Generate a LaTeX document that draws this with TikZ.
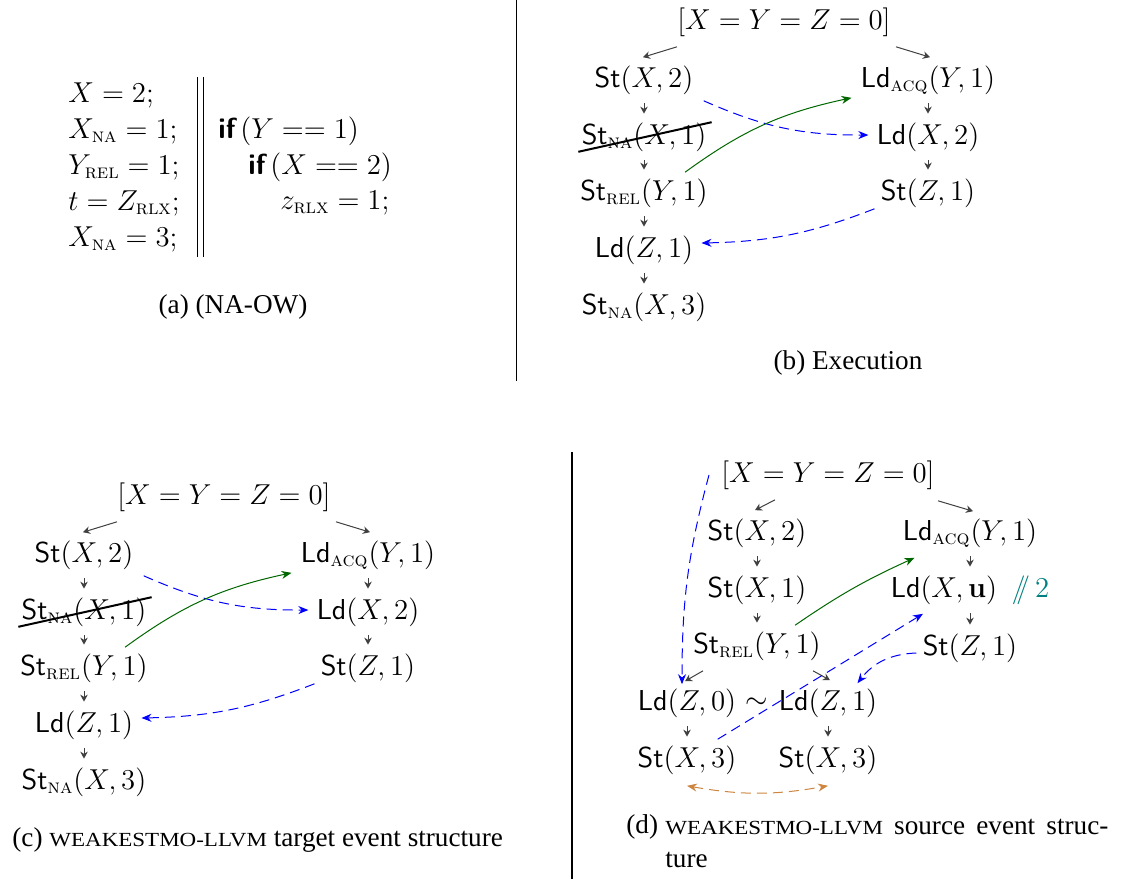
\documentclass[tikz,border=0pt]{standalone}
\usepackage{amsmath}
\usepackage[no-math]{fontspec}
\setmainfont{Liberation Serif}
\newfontfamily\smcfont{Liberation Serif}[FakeStretch=1.15]
\usetikzlibrary{arrows.meta,calc}

\definecolor{ecocol}{RGB}{205,133,63}
\newcommand{\mo}[1]{\text{\fontfamily{lmr}\selectfont\scshape #1}}
\newcommand{\Ste}{\mathsf{St}}
\newcommand{\Lde}{\mathsf{Ld}}
\newcommand{\wmo}{{\smcfont\fontsize{10}{12}\selectfont WEAKESTMO-LLVM}}

\begin{document}
\begin{tikzpicture}[x=0.5pt, y=0.5pt,
  ev/.style={inner sep=0pt, font=\fontsize{14.5}{17}\selectfont},
  code/.style={inner sep=0pt, anchor=west, font=\fontsize{14.5}{17}\selectfont},
  subcap/.style={inner sep=0pt, font=\fontsize{13.6}{16}\selectfont},
  po/.style={draw=black!75, line width=0.5pt, -{Stealth[length=3.5pt,width=3.8pt]}},
  pod/.style={po, shorten <=4.3pt, shorten >=4.3pt},
  rf/.style={blue, line width=0.5pt, dash pattern=on 5pt off 3pt, -{Stealth[length=5pt,width=4pt]}},
  sw/.style={green!40!black, line width=0.5pt, -{Stealth[length=5pt,width=4pt]}},
  eco/.style={draw=ecocol, line width=0.5pt, dash pattern=on 5pt off 3pt, {Stealth[length=5pt,width=4pt]}-{Stealth[length=5pt,width=4pt]}},
]
\useasboundingbox (0,0) rectangle (1132,-879);

% separators
\draw[line width=0.5pt] (516,0) -- (516,-381);
\draw[line width=0.6pt] (572,-452) -- (572,-879);

% ============================================================
% (a) program
% ============================================================
\node[code] (l1) at (68,-95)  {$X = 2;$};
\node[code] (l2) at (68,-131) {$X_{\mo{na}} = 1;$};
\node[code] (l3) at (68,-167) {$Y_{\mo{rel}} = 1;$};
\node[code] (l4) at (68,-203) {$t = Z_{\mo{rlx}};$};
\node[code] (l5) at (68,-239) {$X_{\mo{na}} = 3;$};
\draw[line width=0.5pt] (197,-77) -- (197,-257);
\draw[line width=0.5pt] (203,-77) -- (203,-257);
\node[code] (r1) at (218,-131) {{\sffamily\bfseries if}\,$(Y == 1)$};
\node[code] (r2) at (248,-167) {{\sffamily\bfseries if}\,$(X == 2)$};
\node[code] (r3) at (280,-203) {$z_{\mo{rlx}} = 1;$};
\node[subcap] (capa) at (233,-307) {(a) (NA-OW)};

% ============================================================
% (b) execution
% ============================================================
\node[ev] (init)  at (784,-22)  {$[X = Y = Z = 0]$};
\node[ev] (sx2)   at (644,-80)  {$\Ste(X,2)$};
\node[ev] (sna)   at (644,-137) {$\Ste_{\mo{na}}(X,1)$};
\node[ev] (srel)  at (644,-193) {$\Ste_{\mo{rel}}(Y,1)$};
\node[ev] (ldz)   at (644,-250) {$\Lde(Z,1)$};
\node[ev] (sna3)  at (644,-307) {$\Ste_{\mo{na}}(X,3)$};
\node[ev] (ldacq) at (928,-80)  {$\Lde_{\mo{acq}}(Y,1)$};
\node[ev] (ldx2)  at (928,-137) {$\Lde(X,2)$};
\node[ev] (stz)   at (928,-193) {$\Ste(Z,1)$};

\draw[po] ([yshift=-5pt]init.south west) -- ([xshift=-0.5pt,yshift=4pt]sx2.north);
\draw[po] ([xshift=2.5pt,yshift=-5pt]init.south east) -- ([xshift=1pt,yshift=4pt]ldacq.north);
\draw[pod] (sx2.south) -- (sna.north);
\draw[pod] (sna.south) -- (srel.north);
\draw[pod] (srel.south) -- (ldz.north);
\draw[pod] (ldz.south) -- (sna3.north);
\draw[pod] (ldacq.south) -- (ldx2.north);
\draw[pod] (ldx2.south) -- (stz.north);
\draw[line width=1pt] ([xshift=-1.5pt]sna.south west) -- ([xshift=2.5pt]sna.north east);
\draw[rf] ([xshift=5pt,yshift=-3pt]sx2.south east) to[bend right=12] ([xshift=-4pt,yshift=1pt]ldx2.west);
\draw[sw] ([xshift=-11.5pt,yshift=3pt]srel.north east) to[bend left=12] ([xshift=-4.5pt,yshift=-1.5pt]ldacq.south west);
\draw[rf] ([xshift=-3pt,yshift=-0.5pt]stz.south west) to[bend left=10] ([xshift=4pt,yshift=3.5pt]ldz.east);

\node[subcap] (capb) at (848,-363) {(b) Execution};

% ============================================================
% (c) target event structure
% ============================================================
\begin{scope}[shift={(-560,-475)}, name prefix=c-]
  \node[ev] (init)  at (784,-22)  {$[X = Y = Z = 0]$};
  \node[ev] (sx2)   at (644,-80)  {$\Ste(X,2)$};
  \node[ev] (sna)   at (644,-137) {$\Ste_{\mo{na}}(X,1)$};
  \node[ev] (srel)  at (644,-193) {$\Ste_{\mo{rel}}(Y,1)$};
  \node[ev] (ldz)   at (644,-250) {$\Lde(Z,1)$};
  \node[ev] (sna3)  at (644,-307) {$\Ste_{\mo{na}}(X,3)$};
  \node[ev] (ldacq) at (928,-80)  {$\Lde_{\mo{acq}}(Y,1)$};
  \node[ev] (ldx2)  at (928,-137) {$\Lde(X,2)$};
  \node[ev] (stz)   at (928,-193) {$\Ste(Z,1)$};

  \draw[po] ([yshift=-5pt]init.south west) -- ([xshift=-0.5pt,yshift=4pt]sx2.north);
  \draw[po] ([xshift=2.5pt,yshift=-5pt]init.south east) -- ([xshift=1pt,yshift=4pt]ldacq.north);
  \draw[pod] (sx2.south) -- (sna.north);
  \draw[pod] (sna.south) -- (srel.north);
  \draw[pod] (srel.south) -- (ldz.north);
  \draw[pod] (ldz.south) -- (sna3.north);
  \draw[pod] (ldacq.south) -- (ldx2.north);
  \draw[pod] (ldx2.south) -- (stz.north);
  \draw[line width=1pt] ([xshift=-1.5pt]sna.south west) -- ([xshift=2.5pt]sna.north east);
  \draw[rf] ([xshift=5pt,yshift=-3pt]sx2.south east) to[bend right=12] ([xshift=-4pt,yshift=1pt]ldx2.west);
  \draw[sw] ([xshift=-11.5pt,yshift=3pt]srel.north east) to[bend left=12] ([xshift=-4.5pt,yshift=-1.5pt]ldacq.south west);
  \draw[rf] ([xshift=-3pt,yshift=-0.5pt]stz.south west) to[bend left=10] ([xshift=4pt,yshift=3.5pt]ldz.east);
\end{scope}
\node[subcap, anchor=west] (capc) at (12,-840) {(c) \wmo{} target event structure};

% ============================================================
% (d) source event structure
% ============================================================
\node[ev] (init)  at (828,-475) {$[X = Y = Z = 0]$};
\node[ev] (sx2)   at (757,-533) {$\Ste(X,2)$};
\node[ev] (sx1)   at (757,-590) {$\Ste(X,1)$};
\node[ev] (srel)  at (757,-646) {$\Ste_{\mo{rel}}(Y,1)$};
\node[ev] (ldacq) at (970,-533) {$\Lde_{\mo{acq}}(Y,1)$};
\node[ev] (ldxu)  at (970,-590) {$\Lde(X,\mathbf{u})$\enspace\textcolor{teal}{$/\!\!/\,2$}};
\node[ev] (stz)   at (970,-648) {$\Ste(Z,1)$};
\node[ev] (ldz0)  at (687,-703) {$\Lde(Z,0)$};
\node[ev] (sim)   at (757,-703) {$\sim$};
\node[ev] (ldz1)  at (828,-703) {$\Lde(Z,1)$};
\node[ev] (sx3a)  at (687,-760) {$\Ste(X,3)$};
\node[ev] (sx3b)  at (828,-760) {$\Ste(X,3)$};

\draw[po] ([xshift=-26.5pt,yshift=-5pt]init.south) -- ([xshift=-1pt,yshift=4pt]sx2.north);
\draw[po] ([xshift=1.5pt,yshift=-5.5pt]init.south east) -- ([xshift=1.5pt,yshift=3.5pt]ldacq.north);
\draw[pod] (sx2.south) -- (sx1.north);
\draw[pod] (sx1.south) -- (srel.north);
\draw[pod] (ldacq.south) -- (ldxu.north);
\draw[pod] (ldxu.south) -- (stz.north);
\draw[po] ([xshift=-27pt,yshift=-5pt]srel.south) -- ([xshift=-1pt,yshift=3.5pt]ldz0.north);
\draw[po] ([xshift=28pt,yshift=-5pt]srel.south) -- ([xshift=1pt,yshift=4pt]ldz1.north);
\draw[pod] (ldz0.south) -- (sx3a.north);
\draw[pod] (ldz1.south) -- (sx3b.north);

\draw[rf] ([xshift=-6pt]init.west) to[out=-105, in=90] ([xshift=-2.5pt,yshift=2pt]ldz0.north);
\draw[sw] ([xshift=-13pt,yshift=3pt]srel.north east) to[bend left=5] ([xshift=6pt,yshift=-5pt]ldacq.south west);
\draw[rf] ([xshift=-9.5pt,yshift=3pt]sx3a.north east) -- ([xshift=-23.5pt,yshift=-4.5pt]ldxu.south);
\draw[rf] ([xshift=-3pt,yshift=-2.5pt]stz.west) to[bend right=25] ([xshift=-10pt,yshift=2.5pt]ldz1.north east);
\draw[eco] ([yshift=-5.5pt]sx3a.south) to[bend right=10] ([yshift=-5.5pt]sx3b.south);

\node[subcap, anchor=west] (capd) at (626,-827) {(d)};
\node[subcap, anchor=west] (capd1) at (665,-827) {\makebox[221.5pt][s]{\wmo{} source event struc-}};
\node[subcap, anchor=west] (capd2) at (665,-860) {ture};

\end{tikzpicture}
\end{document}
